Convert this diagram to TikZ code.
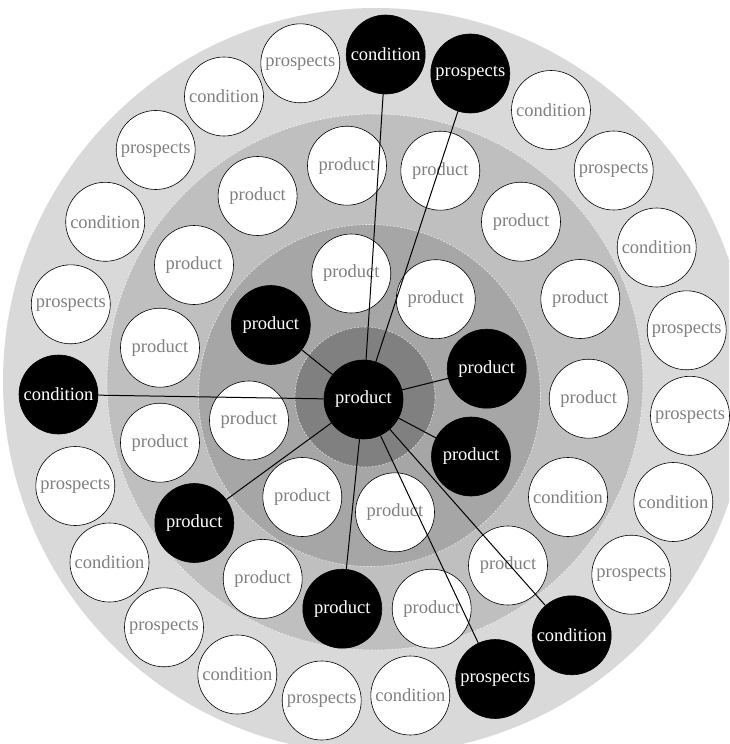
\documentclass[tikz,border=0pt]{standalone}
\usepackage{fontspec}
\setmainfont{Liberation Serif}
\definecolor{ringA}{RGB}{217,217,217}
\definecolor{ringB}{RGB}{191,191,191}
\definecolor{ringC}{RGB}{166,166,166}
\definecolor{ringD}{RGB}{128,128,128}
\definecolor{txtgray}{RGB}{128,128,128}
\begin{document}
\begin{tikzpicture}[x=1pt,y=-1pt,
  base/.style={circle, inner sep=0pt, minimum size=79pt, font=\fontsize{18.5}{20}\selectfont},
  wn/.style={base, draw=black, line width=0.6pt, fill=white, text=txtgray},
  bn/.style={base, draw=black, line width=0.6pt, fill=black, text=white},
  link/.style={draw=black, line width=1pt},
  ringline/.style={draw=white, draw opacity=0.7, line width=0.6pt, dash pattern=on 2pt off 1.5pt}
]
\useasboundingbox (0,0) rectangle (729,744);
\begin{scope}
\clip (0,0) rectangle (729,744);
\fill[white] (0,0) rectangle (729,744);
\fill[ringA] (376,381) circle[radius=373];
\fill[ringB] (375,382) circle[radius=268];
\draw[ringline] (375,382) circle[radius=268];
\fill[ringC] (369.5,395.5) circle[radius=171];
\draw[ringline] (369.5,395.5) circle[radius=171];
\fill[ringD] (365,397) circle[radius=70];
\draw[ringline] (365,397) circle[radius=70];
\end{scope}

% outer ring
\node[wn] (o1) at (300.3,63.3) {prospects};
\node[bn] (o2) at (385.7,54.5) {condition};
\node[bn] (o3) at (470.3,73.5) {prospects};
\node[wn] (o4) at (551,110) {condition};
\node[wn] (o5) at (613.7,170.5) {prospects};
\node[wn] (o6) at (656.7,247.5) {condition};
\node[wn] (o7) at (686.7,330.3) {prospects};
\node[wn] (o8) at (690,415.8) {prospects};
\node[wn] (o9) at (673.3,502) {condition};
\node[wn] (o10) at (631.3,574.7) {prospects};
\node[bn] (o11) at (571.7,635.3) {condition};
\node[bn] (o12) at (495.2,679) {prospects};
\node[wn] (o13) at (410.3,695.5) {condition};
\node[wn] (o14) at (321.7,700.5) {prospects};
\node[wn] (o15) at (237.3,674.5) {condition};
\node[wn] (o16) at (164,627.3) {prospects};
\node[wn] (o17) at (109.5,562.5) {condition};
\node[wn] (o18) at (75.3,486) {prospects};
\node[bn] (o19) at (58.5,394.5) {condition};
\node[wn] (o20) at (70.8,304.3) {prospects};
\node[wn] (o21) at (105.2,221.8) {condition};
\node[wn] (o22) at (155.7,150) {prospects};
\node[wn] (o23) at (224,96.5) {condition};

% second ring
\node[wn] (s1) at (347,165.7) {product};
\node[wn] (s2) at (440.3,170.7) {product};
\node[wn] (s3) at (521,221.7) {product};
\node[wn] (s4) at (580.3,299) {product};
\node[wn] (s5) at (588.7,398.7) {product};
\node[wn] (s6) at (568,497) {condition};
\node[wn] (s7) at (508,565.5) {product};
\node[wn] (s8) at (431.7,608.7) {product};
\node[bn] (s9) at (342.3,608.7) {product};
\node[wn] (s10) at (262.7,578.9) {product};
\node[bn] (s11) at (194.3,523) {product};
\node[wn] (s12) at (160,442.7) {product};
\node[wn] (s13) at (160,347.7) {product};
\node[wn] (s14) at (194,265) {product};
\node[wn] (s15) at (257.6,196) {product};

% third ring
\node[wn] (t1) at (351.3,273.5) {product};
\node[wn] (t2) at (435.8,299.2) {product};
\node[bn] (t3) at (270.8,325) {product};
\node[bn] (t4) at (486.7,368.7) {product};
\node[bn] (t5) at (471,456.5) {product};
\node[wn] (t6) at (395,512.3) {product};
\node[wn] (t7) at (302.3,497) {product};
\node[wn] (t8) at (249,420.5) {product};

% centre
\node[bn] (c0) at (363.5,399.5) {product};

\foreach \t in {o2,o3,t3,t4,t5,o19,s11,s9,o12,o11}
  \draw[link] (c0) -- (\t);
\end{tikzpicture}
\end{document}
